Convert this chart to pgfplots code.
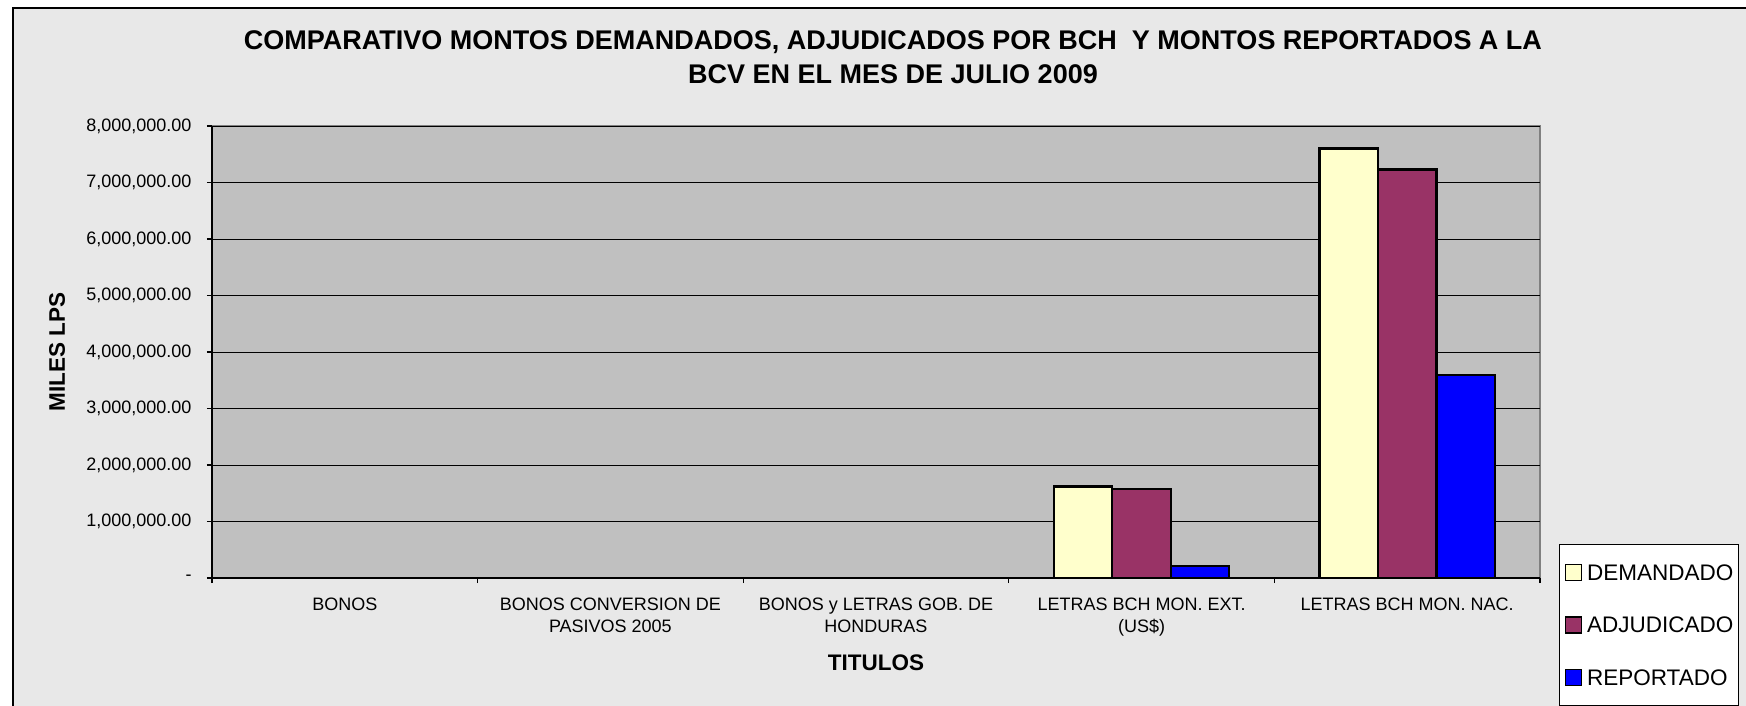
\documentclass[border=0pt]{standalone}
\usepackage{fontspec}
\setmainfont{Liberation Sans}
\usepackage{pgfplots}
\pgfplotsset{compat=1.18}
\definecolor{plotbg}{HTML}{C0C0C0}
\definecolor{chartbg}{HTML}{E8E8E8}
\definecolor{dem}{HTML}{FFFFCC}
\definecolor{adj}{HTML}{993366}
\definecolor{rep}{HTML}{0000FF}
\pgfplotsset{sqlegend/.style={legend image code/.code={\draw[##1, line width=0.6pt] (0pt,-3.2pt) rectangle (6.4pt,3.2pt);}}}
\begin{document}
\begin{tikzpicture}
\path[use as bounding box] (0,0) rectangle (698.4pt,282pt);
\fill[white] (0,0) rectangle (698.4pt,282pt);
\filldraw[fill=chartbg, draw=black, line width=0.7pt] (5.2pt,-10pt) rectangle (710pt,278.8pt);
\node[anchor=base, inner sep=0pt, font=\bfseries\fontsize{10.8}{13}\selectfont] at (357.2pt,262pt) {COMPARATIVO MONTOS DEMANDADOS, ADJUDICADOS POR BCH\ \ Y MONTOS REPORTADOS A LA};
\node[anchor=base, inner sep=0pt, font=\bfseries\fontsize{10.8}{13}\selectfont] at (357.2pt,248.8pt) {BCV EN EL MES DE JULIO 2009};
\begin{axis}[
  at={(84.8pt,50.8pt)}, anchor=south west,
  scale only axis, width=531.2pt, height=180.8pt,
  ybar=0pt, bar width=23.4pt,
  xmin=-0.5, xmax=4.5, ymin=0, ymax=8000000,
  axis x line*=bottom, axis y line*=left,
  axis line style={black, line width=0.6pt, -},
  axis background/.style={fill=plotbg, draw=gray, line width=1pt},
  scaled y ticks=false,
  tick align=outside,
  xtick={0,1,2,3,4},
  xticklabels={BONOS, BONOS CONVERSION DE\\PASIVOS 2005, BONOS y LETRAS GOB. DE\\HONDURAS, LETRAS BCH MON. EXT.\\(US\$), LETRAS BCH MON. NAC.},
  major x tick style={draw=none},
  minor xtick={-0.5,0.5,1.5,2.5,3.5,4.5},
  minor x tick style={black, line width=0.5pt},
  minor tick length=2pt,
  major tick length=2pt,
  ytick={0,1000000,2000000,3000000,4000000,5000000,6000000,7000000,8000000},
  yticklabels={-\hspace{8pt}, {1,000,000.00}, {2,000,000.00}, {3,000,000.00}, {4,000,000.00}, {5,000,000.00}, {6,000,000.00}, {7,000,000.00}, {8,000,000.00}},
  major y tick style={black, line width=0.5pt},
  ymajorgrids, major grid style={black, line width=0.4pt},
  xticklabel style={anchor=north, inner sep=0pt, align=center, yshift=-5.6pt, font=\fontsize{7.2}{8.8}\selectfont},
  yticklabel style={anchor=east, inner sep=0pt, xshift=-6pt, font=\fontsize{7.2}{8.8}\selectfont},
  /pgf/number format/assume math mode=true,
  xlabel={TITULOS}, ylabel={MILES LPS},
  every axis x label/.style={at={(axis description cs:0.5,-0.188)}, anchor=center, font=\bfseries\fontsize{9}{10.8}\selectfont},
  every axis y label/.style={at={(axis description cs:-0.1167,0.5)}, rotate=90, anchor=center, font=\bfseries\fontsize{9}{10.8}\selectfont},
  legend style={at={(axis description cs:1.0143,0.0752)}, anchor=north west, draw=black, fill=white, line width=0.5pt,
    font=\fontsize{9}{10.8}\selectfont, inner xsep=2pt, inner ysep=7.6pt, row sep=14pt,
    nodes={inner sep=0pt, text height=6.4pt, text depth=0pt},
    /tikz/every odd column/.append style={column sep=2pt}},
  legend cell align=left,
]
\addplot[fill=dem, draw=black, line width=0.9pt, sqlegend] coordinates {(3,1620000) (4,7601000)};
\addplot[fill=adj, draw=black, line width=0.9pt, sqlegend] coordinates {(3,1572000) (4,7230000)};
\addplot[fill=rep, draw=black, line width=0.9pt, sqlegend] coordinates {(3,210000) (4,3588000)};
\legend{DEMANDADO, ADJUDICADO, REPORTADO}
\end{axis}
\end{tikzpicture}
\end{document}
